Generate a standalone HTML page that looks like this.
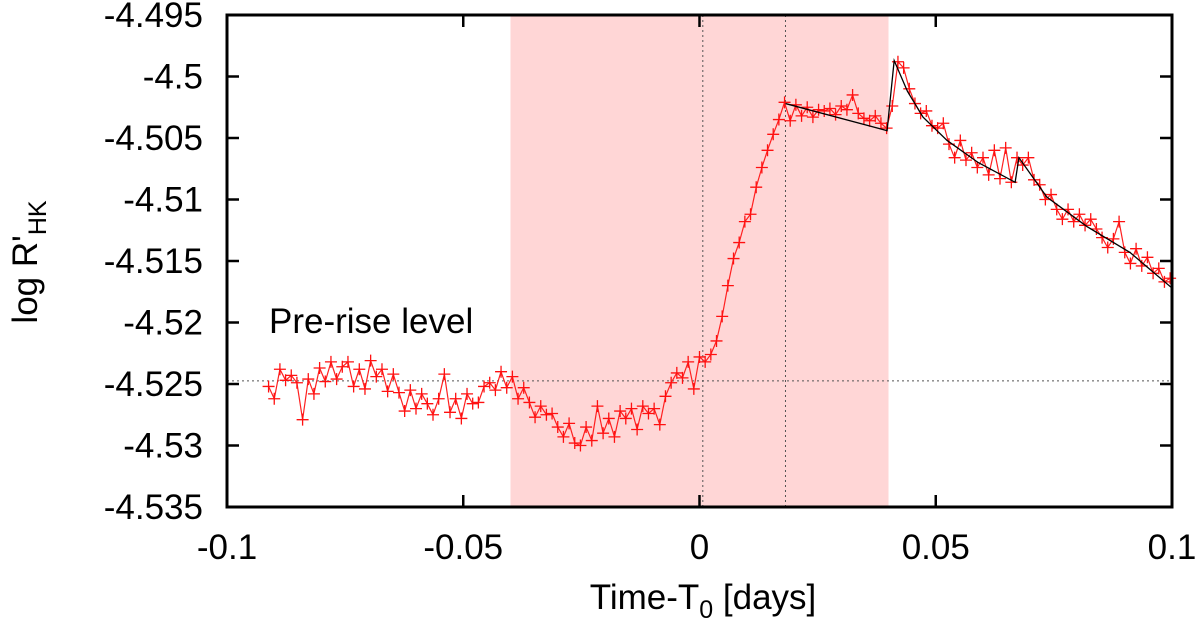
<!DOCTYPE html>
<html><head><meta charset="utf-8"><style>
html,body{margin:0;padding:0;background:#fff;}
svg{display:block;font-family:"Liberation Sans",sans-serif;}
</style></head><body>
<svg id="chart" width="1200" height="627" viewBox="0 0 1200 627" xmlns="http://www.w3.org/2000/svg"></svg>
<script>
const xTicks=[-0.1,-0.05,0,0.05,0.1];
const xTickLabels=["-0.1","-0.05","0","0.05","0.1"];
const yTicks=[-4.495,-4.5,-4.505,-4.51,-4.515,-4.52,-4.525,-4.53,-4.535];
const yTickLabels=["-4.495","-4.5","-4.505","-4.51","-4.515","-4.52","-4.525","-4.53","-4.535"];
const shadeRange=[-0.04,0.04];
const vLines=[0.0007,0.0182];
const preRiseLevel=-4.52475;
const times=[-0.0912,-0.0900,-0.0888,-0.0876,-0.0864,-0.0852,-0.0840,-0.0828,-0.0816,-0.0804,-0.0792,-0.0780,-0.0768,-0.0756,-0.0744,-0.0732,-0.0720,-0.0708,-0.0696,-0.0684,-0.0672,-0.0660,-0.0648,-0.0636,-0.0624,-0.0612,-0.0600,-0.0588,-0.0576,-0.0564,-0.0552,-0.0540,-0.0528,-0.0516,-0.0504,-0.0492,-0.0480,-0.0468,-0.0456,-0.0444,-0.0432,-0.0420,-0.0408,
-0.0396,-0.0384,-0.0372,-0.0360,-0.0348,-0.0336,-0.0324,-0.0312,-0.0300,-0.0288,-0.0276,-0.0264,-0.0252,-0.0240,-0.0228,-0.0216,-0.0204,-0.0192,-0.0180,-0.0168,-0.0156,-0.0144,-0.0132,-0.0120,-0.0108,-0.0096,-0.0084,-0.0072,-0.0060,-0.0048,-0.0036,-0.0024,-0.0012,
0.0000,0.0012,0.0024,0.0036,0.0048,0.0060,0.0072,0.0084,0.0096,0.0108,0.0120,0.0132,0.0144,0.0156,0.0168,0.0180,0.0192,0.0204,0.0216,0.0228,0.0240,0.0252,0.0264,0.0276,0.0288,0.0300,0.0312,0.0324,0.0336,0.0348,0.0360,0.0372,0.0384,0.0396,0.0408,0.0420,0.0432,0.0444,0.0456,0.0468,0.0480,0.0492,0.0504,0.0516,0.0528,0.0540,0.0552,0.0564,0.0576,0.0588,0.0600,0.0612,0.0624,0.0636,0.0648,0.0660,0.0672,0.0684,0.0696,0.0708,0.0720,0.0732,0.0744,0.0756,0.0768,0.0780,0.0792,0.0804,0.0816,0.0828,0.0840,0.0852,0.0864,0.0876,0.0888,0.0900,0.0912,0.0924,0.0936,0.0948,0.0960,0.0972,0.0984,0.0996];
const values=[-4.5252,-4.5262,-4.5238,-4.5247,-4.5243,-4.5249,-4.5279,-4.5246,-4.5258,-4.5237,-4.5248,-4.5232,-4.5246,-4.5236,-4.5232,-4.5252,-4.5238,-4.5254,-4.5231,-4.5244,-4.5238,-4.5256,-4.5242,-4.5257,-4.5272,-4.5255,-4.5270,-4.5258,-4.5266,-4.5275,-4.5262,-4.5242,-4.5273,-4.5262,-4.5278,-4.5258,-4.5266,-4.5265,-4.5252,-4.5249,-4.5255,-4.5240,-4.5253,
-4.5244,-4.5262,-4.5253,-4.5265,-4.5277,-4.5268,-4.5275,-4.5274,-4.5285,-4.5293,-4.5282,-4.5298,-4.5300,-4.5285,-4.5296,-4.5268,-4.5290,-4.5278,-4.5293,-4.5272,-4.5278,-4.5270,-4.5287,-4.5268,-4.5274,-4.5270,-4.5283,-4.5260,-4.5249,-4.5241,-4.5245,-4.5232,-4.5254,
-4.5228,-4.5232,-4.5226,-4.5215,-4.5195,-4.5170,-4.5148,-4.5135,-4.5118,-4.5112,-4.5090,-4.5074,-4.5060,-4.5047,-4.5035,-4.5021,-4.5036,-4.5023,-4.5032,-4.5025,-4.5033,-4.5027,-4.5028,-4.5026,-4.5031,-4.5024,-4.5027,-4.5015,-4.5030,-4.5034,-4.5036,-4.5032,-4.5038,-4.5042,-4.5024,-4.4988,-4.4993,-4.5010,-4.5022,-4.5030,-4.5028,-4.5040,-4.5042,-4.5038,-4.5055,-4.5066,-4.5052,-4.5068,-4.5062,-4.5074,-4.5066,-4.5080,-4.5060,-4.5083,-4.5058,-4.5086,-4.5066,-4.5072,-4.5066,-4.5084,-4.5088,-4.5100,-4.5096,-4.5108,-4.5116,-4.5108,-4.5118,-4.5112,-4.5121,-4.5116,-4.5124,-4.5131,-4.5139,-4.5132,-4.5118,-4.5143,-4.5152,-4.5140,-4.5154,-4.5147,-4.5160,-4.5156,-4.5167,-4.5164];
const fitTimes=[0.0182,0.0397,0.0412,0.0440,0.0473,0.0524,0.0590,0.0668,0.0676,0.0735,0.0820,0.0911,0.1000];
const fitValues=[-4.5022,-4.5044,-4.4987,-4.5012,-4.5033,-4.5052,-4.5070,-4.5086,-4.5066,-4.5098,-4.5122,-4.5143,-4.5172];

const L=227,R=1172,T=15,B=507,X0=-0.1,X1=0.1,Y0=-4.535,Y1=-4.495;
const xs=v=>L+(v-X0)/(X1-X0)*(R-L);
const ys=v=>B-(v-Y0)/(Y1-Y0)*(B-T);
const svg=document.getElementById('chart');
const NS='http://www.w3.org/2000/svg';
function mk(tag,attrs,parent){const e=document.createElementNS(NS,tag);for(const k in attrs)e.setAttribute(k,attrs[k]);(parent||svg).appendChild(e);return e;}

const shade=mk('rect',{x:xs(shadeRange[0]),y:T,width:xs(shadeRange[1])-xs(shadeRange[0]),height:B-T,fill:'#ffd6d6'});


vLines.forEach(v=>{const l=mk('line',{x1:xs(v),x2:xs(v),y1:T,y2:B,stroke:'#555','stroke-width':1,'stroke-dasharray':'2,3'});

});
const hl=mk('line',{x1:L,x2:R,y1:ys(preRiseLevel),y2:ys(preRiseLevel),stroke:'#555','stroke-width':1,'stroke-dasharray':'2,3'});



const pts=times.map((t,i)=>xs(t).toFixed(1)+','+ys(values[i]).toFixed(1)).join(' ');
const line=mk('polyline',{points:pts,fill:'none',stroke:'#ff2020','stroke-width':1.2});


const g=mk('g',{stroke:'#ff1010','stroke-width':1.3});


times.forEach((t,i)=>{const x=xs(t),y=ys(values[i]);
const p=mk('path',{d:`M${x-6},${y}H${x+6}M${x},${y-6}V${y+6}`},g);

});
const fit=mk('polyline',{points:fitTimes.map((t,i)=>xs(t)+','+ys(fitValues[i])).join(' '),fill:'none',stroke:'#000','stroke-width':1.3});



const frame=mk('rect',{x:L,y:T,width:R-L,height:B-T,fill:'none',stroke:'#000','stroke-width':3});


xTicks.forEach((v,i)=>{const x=xs(v);
mk('line',{x1:x,x2:x,y1:B,y2:B-12,stroke:'#000','stroke-width':2.5});
mk('line',{x1:x,x2:x,y1:T,y2:T+12,stroke:'#000','stroke-width':2.5});
const tx=mk('text',{x:x,y:559,'font-size':35,'text-anchor':'middle'});tx.textContent=xTickLabels[i];

});
yTicks.forEach((v,i)=>{const y=ys(v);
mk('line',{x1:L,x2:L+12,y1:y,y2:y,stroke:'#000','stroke-width':2.5});
mk('line',{x1:R,x2:R-12,y1:y,y2:y,stroke:'#000','stroke-width':2.5});
const tx=mk('text',{x:203,y:y+12,'font-size':35,'text-anchor':'end'});tx.textContent=yTickLabels[i];

});

const xt=mk('text',{x:703,y:609,'font-size':35,'text-anchor':'middle'});
xt.innerHTML='Time-T<tspan font-size="25" dy="9">0</tspan><tspan dy="-9"> [days]</tspan>';


const yt=mk('text',{transform:'translate(37,262) rotate(-90)','font-size':35,'text-anchor':'middle'});
yt.innerHTML='log R\'<tspan font-size="25" dy="9">HK</tspan>';


const an=mk('text',{x:269,y:333,'font-size':35});
an.textContent='Pre-rise level';


</script>
</body></html>
